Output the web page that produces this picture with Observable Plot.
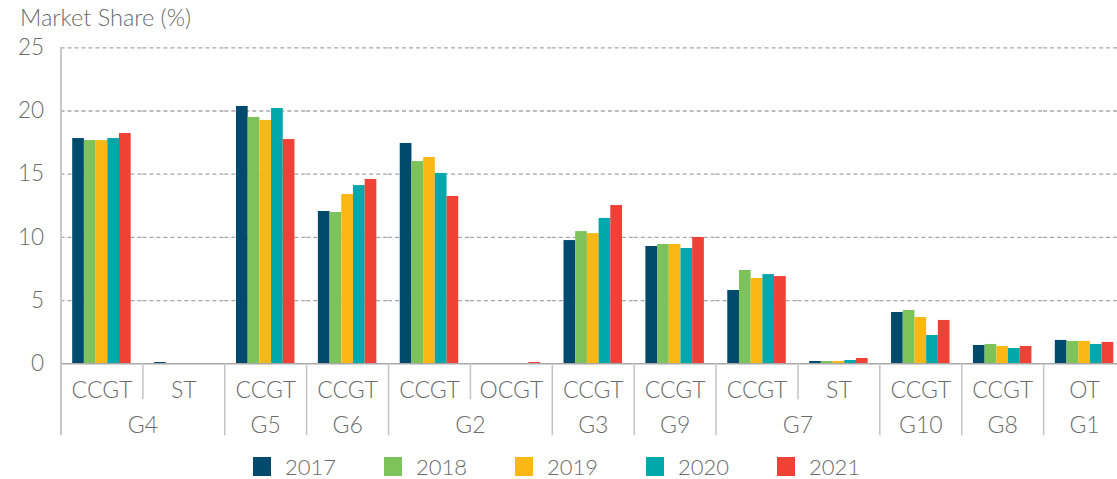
<!DOCTYPE html>
<html><head><meta charset="utf-8">
<script src="https://cdn.jsdelivr.net/npm/d3@7"></script>
<script src="https://cdn.jsdelivr.net/npm/@observablehq/plot@0.6"></script>
<style>
body{margin:0;background:#fff;font-family:Lato,sans-serif;font-weight:300;color:#6b6b6b;overflow:hidden;}
#title{height:36px;box-sizing:border-box;padding:4px 0 0 20px;font-size:23.5px;line-height:26px;white-space:nowrap;}
#legend{height:33px;display:flex;padding-left:253px;padding-top:8px;box-sizing:border-box;}
.item{display:flex;align-items:center;width:131px;font-size:22px;line-height:27px;}
.sw{width:18px;height:19px;margin-right:14px;flex:none;}
</style></head><body>
<div id="title">Market Share (%)</div>
<div id="chart"></div>
<div id="legend"></div>
<script>
const groups = ["G4","G4","G5","G6","G2","G2","G3","G9","G7","G7","G10","G8","G1"];
const types  = ["CCGT","ST","CCGT","CCGT","CCGT","OCGT","CCGT","CCGT","CCGT","ST","CCGT","CCGT","OT"];
const years  = ["2017","2018","2019","2020","2021"];
const colors = ["#004a6e","#7dc25b","#fbb814","#00a8ac","#ef4135"];
const v2017 = [17.82, 0.1, 20.36, 12.05, 17.43, 0,   9.75, 9.28, 5.8,  0.18, 4.06, 1.45, 1.85];
const v2018 = [17.66, 0,   19.49, 11.97, 16.0,  0,   10.46, 9.44, 7.38, 0.18, 4.22, 1.53, 1.77];
const v2019 = [17.66, 0,   19.25, 13.39, 16.32, 0,   10.3, 9.44, 6.75, 0.18, 3.66, 1.37, 1.77];
const v2020 = [17.82, 0,   20.2,  14.1,  15.06, 0,   11.5, 9.12, 7.06, 0.26, 2.24, 1.21, 1.53];
const v2021 = [18.22, 0,   17.74, 14.58, 13.24, 0.1, 12.52, 9.99, 6.9, 0.42, 3.43, 1.37, 1.69];
const yTicks = [0, 5, 10, 15, 20, 25];

const series = [v2017, v2018, v2019, v2020, v2021];
const keys = groups.map((g, i) => g + " " + types[i]);
const cats = keys.map((key, i) => ({
  key, type: types[i], group: groups[i],
  kind: i === 0 ? "axis" : groups[i] !== groups[i - 1] ? "group" : "inner"
}));
const rows = [];
keys.forEach((key, i) => years.forEach((year, j) => rows.push({key, year, value: series[j][i]})));
const groupHeads = [];
groups.forEach((g, i) => {
  if (i === 0 || groups[i - 1] !== g) groupHeads.push({key: keys[i], group: g, span: groups.filter(x => x === g).length});
});

const W = 1117, H = 410, mL = 60.5, mR = -8, mT = 11.3, mB = 82.7;
const fw = (W - mR - mL) / keys.length;
const pad = 1;
const step = fw / (years.length + 2 * pad);
const edgeDx = -(pad + 0.5) * step;
const frameH = H - mT - mB;
const grey = "#6b6b6b";

const chart = Plot.plot({
  width: W, height: H, marginLeft: mL, marginRight: mR, marginTop: mT, marginBottom: mB,
  style: {fontFamily: "Lato, sans-serif", fontWeight: 300, color: grey, background: "transparent", overflow: "visible"},
  fx: {domain: keys, paddingInner: 0, paddingOuter: 0, round: false, axis: null},
  x: {domain: years, paddingInner: 0, paddingOuter: pad, round: false, axis: null},
  y: {domain: [0, 25], axis: null},
  color: {domain: years, range: colors},
  marks: [
    Plot.ruleY(yTicks.filter(d => d > 0), {stroke: "#a6a6a6", strokeDasharray: "4,3", strokeWidth: 1.3}),
    Plot.barY(rows, {fx: "key", x: "year", y: "value", fill: "year"}),
    Plot.ruleY([0], {stroke: "#a8a8a8", strokeWidth: 1.5}),
    Plot.axisY({ticks: yTicks, tickSize: 0, tickPadding: 17, fontSize: 22.5, label: null, color: grey}),
    Plot.ruleX(cats.filter(d => d.kind === "axis"), {fx: "key", x: () => years[0], dx: edgeDx, stroke: "#c8c8c8", strokeWidth: 2, insetTop: 0, insetBottom: -72}),
    Plot.ruleX(cats.filter(d => d.kind === "group"), {fx: "key", x: () => years[0], dx: edgeDx, stroke: "#c4c4c4", strokeWidth: 1.5, insetTop: frameH, insetBottom: -72}),
    Plot.ruleX(cats.filter(d => d.kind === "inner"), {fx: "key", x: () => years[0], dx: edgeDx, stroke: "#c4c4c4", strokeWidth: 1.5, insetTop: frameH, insetBottom: -36}),
    Plot.text(cats, {fx: "key", text: "type", frameAnchor: "bottom", textAnchor: "middle", lineAnchor: "middle", dy: 27, fontSize: 23}),
    Plot.text(groupHeads.filter(d => d.span === 1), {fx: "key", text: "group", frameAnchor: "bottom", textAnchor: "middle", lineAnchor: "middle", dy: 62, fontSize: 23}),
    Plot.text(groupHeads.filter(d => d.span === 2), {fx: "key", text: "group", frameAnchor: "bottom-right", textAnchor: "middle", lineAnchor: "middle", dy: 62, fontSize: 23})
  ]
});
document.getElementById("chart").appendChild(chart);

const legend = document.getElementById("legend");
years.forEach((y, i) => {
  const it = document.createElement("div");
  it.className = "item";
  it.innerHTML = `<span class="sw" style="background:${colors[i]}"></span><span>${y}</span>`;
  legend.appendChild(it);
});
</script>
</body></html>
